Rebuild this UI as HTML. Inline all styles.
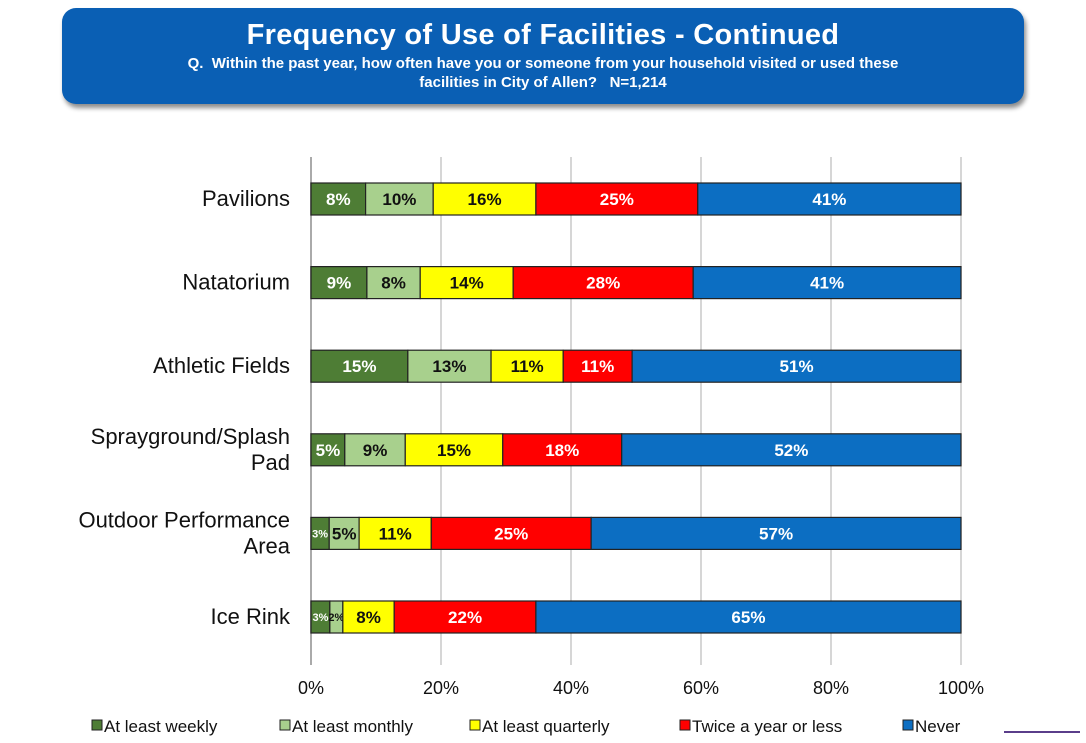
<!DOCTYPE html>
<html><head><meta charset="utf-8"><style>
body{margin:0;background:#fff;width:1086px;height:743px;overflow:hidden;font-family:"Liberation Sans",sans-serif}
#banner{position:absolute;left:62px;top:8px;width:962px;height:96px;background:#0a5fb4;border-radius:14px;box-shadow:2px 4px 5px rgba(0,0,0,.45);color:#fff;text-align:center}
#banner .t{font-weight:bold;font-size:29px;margin-top:11px;letter-spacing:0.3px}
#banner .s{font-weight:bold;font-size:15px;line-height:19px;margin-top:2px}
</style></head><body>
<div id="banner">
<div class="t">Frequency of Use of Facilities - Continued</div>
<div class="s">Q.&nbsp; Within the past year, how often have you or someone from your household visited or used these<br>facilities in City of Allen?&nbsp;&nbsp; N=1,214</div>
</div>
<svg id="chart" width="1086" height="743" style="position:absolute;left:0;top:0"></svg>
<script>
const categories=[["Pavilions"],["Natatorium"],["Athletic Fields"],["Sprayground/Splash","Pad"],["Outdoor Performance","Area"],["Ice Rink"]];
const seriesNames=["At least weekly","At least monthly","At least quarterly","Twice a year or less","Never"];
const weekly=[8.4,8.6,14.9,5.2,2.8,2.9];
const monthly=[10.4,8.2,12.8,9.3,4.6,2.0];
const quarterly=[15.8,14.3,11.1,15.0,11.1,7.9];
const twice=[24.9,27.7,10.6,18.3,24.6,21.8];
const never=[40.5,41.2,50.6,52.2,56.9,65.4];
const ticks=[0,20,40,60,80,100];
const series=[weekly,monthly,quarterly,twice,never];
const colors=["#4e7d35","#a8d08d","#ffff00","#ff0000","#0c6ec2"];
const textColors=["#fff","#111","#111","#fff","#fff"];
const NS="http://www.w3.org/2000/svg";
const svg=document.getElementById('chart');
const x0=311,x1=961,yTop=157,rowH=83.6,barTop=183,barH=32;
const xs=v=>x0+(x1-x0)*v/100;
const yRow=i=>barTop+i*rowH;
function mk(t,a){const e=document.createElementNS(NS,t);for(const k in a)e.setAttribute(k,a[k]);svg.appendChild(e);return e;}
ticks.forEach(t=>{
 const g=mk('line',{x1:xs(t),x2:xs(t),y1:yTop,y2:665,stroke:t===0?'#aaa':'#bbb','stroke-width':t===0?2:1.2});
 
 
 const l=mk('text',{x:xs(t),y:694,'text-anchor':'middle','font-size':18,fill:'#111'});
 l.textContent=t+'%';
 
 
});
categories.forEach((c,i)=>{
 const cy=yRow(i)+barH/2;
 const lines=c.length;
 c.forEach((s,j)=>{
  const t=mk('text',{x:290,y:cy+7+(j-(lines-1)/2)*26,'text-anchor':'end','font-size':22,fill:'#111'});
  t.textContent=s;
  
  
 });
 let cum=0;
 series.forEach((arr,k)=>{
  const v=arr[i];
  const r=mk('rect',{x:xs(cum),y:yRow(i),width:xs(cum+v)-xs(cum),height:barH,fill:colors[k],stroke:'#222','stroke-width':1.2});
  
  
  const small=v<4;
  const t=mk('text',{x:(xs(cum)+xs(cum+v))/2,y:yRow(i)+barH/2+(small?4:6),'text-anchor':'middle','font-size':small?11:17,'font-weight':'bold',fill:textColors[k]});
  t.textContent=Math.round(v)+'%';
  
  
  cum+=v;
 });
});
const lx=[92,280,470,680,903];
seriesNames.forEach((n,k)=>{
 const r=mk('rect',{x:lx[k],y:720,width:10,height:10,fill:colors[k],stroke:'#222','stroke-width':1});
 
 
 const t=mk('text',{x:lx[k]+12,y:732,'font-size':17,fill:'#111'});
 t.textContent=n;
 
 
});
const d=mk('line',{x1:1004,x2:1080,y1:732,y2:732,stroke:'#5a3d8a','stroke-width':2});


</script>
</body></html>
